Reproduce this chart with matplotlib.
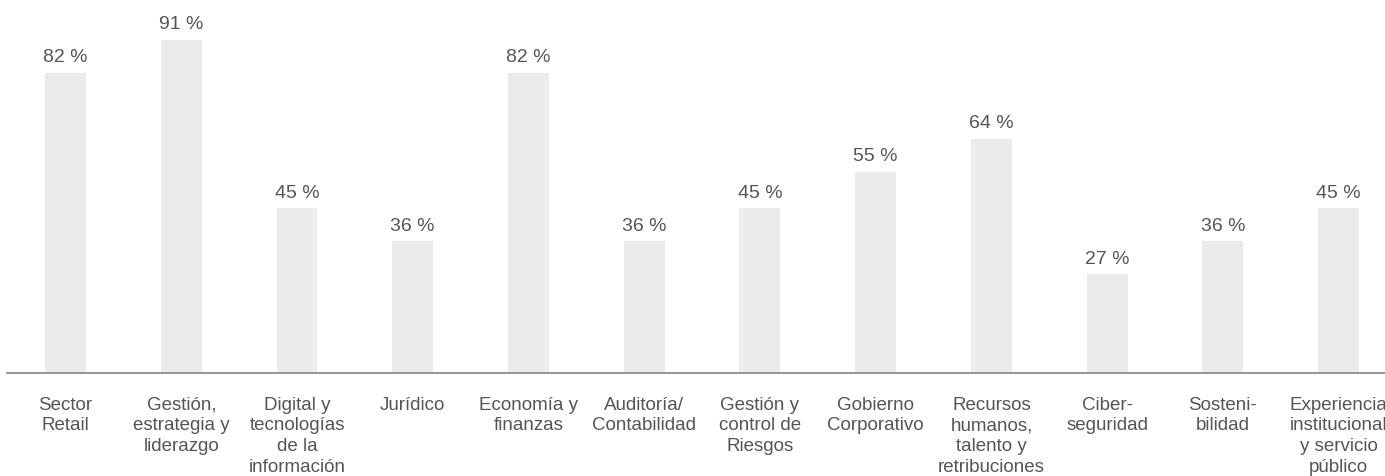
import matplotlib.pyplot as plt

categories = [
    'Sector\nRetail',
    'Gestión,\nestrategia y\nliderazgo',
    'Digital y\ntecnologías\nde la\ninformación',
    'Jurídico',
    'Economía y\nfinanzas',
    'Auditoría/\nContabilidad',
    'Gestión y\ncontrol de\nRiesgos',
    'Gobierno\nCorporativo',
    'Recursos\nhumanos,\ntalento y\nretribuciones',
    'Ciber-\nseguridad',
    'Sosteni-\nbilidad',
    'Experiencia\ninstitucional\ny servicio\npúblico',
]
values = [82, 91, 45, 36, 82, 36, 45, 55, 64, 27, 36, 45]

plt.rcParams['font.family'] = ['Liberation Sans', 'DejaVu Sans']
text_color = '#555555'

fig = plt.figure(figsize=(13.85, 4.76), dpi=100)
ax = fig.add_axes([0, 0.2164, 1, 0.7836])

x = range(len(categories))
bars = ax.bar(x, values, width=0.354, color='#ebebeb', zorder=1)

for rect, v in zip(bars, values):
    ax.annotate(f'{v} %',
                xy=(rect.get_x() + rect.get_width() / 2, rect.get_height()),
                xytext=(0, 7.5), textcoords='offset points',
                ha='center', va='baseline', fontsize=14, color=text_color)

ax.set_xlim(-0.566, 11.40)
ax.set_ylim(0, 101.9)
ax.set_xticks(list(x))
ax.set_xticklabels(categories, fontsize=13.5, color=text_color, linespacing=1.28, va='top')
ax.tick_params(axis='x', length=0, pad=17)
ax.set_yticks([])

for side in ['top', 'right', 'left']:
    ax.spines[side].set_visible(False)
ax.spines['bottom'].set_color('#8c8c8c')
ax.spines['bottom'].set_linewidth(1.3)
ax.spines['bottom'].set_bounds(-0.505, 11.40)
ax.spines['bottom'].set_zorder(3)

fig.savefig('out.png', dpi=100)
